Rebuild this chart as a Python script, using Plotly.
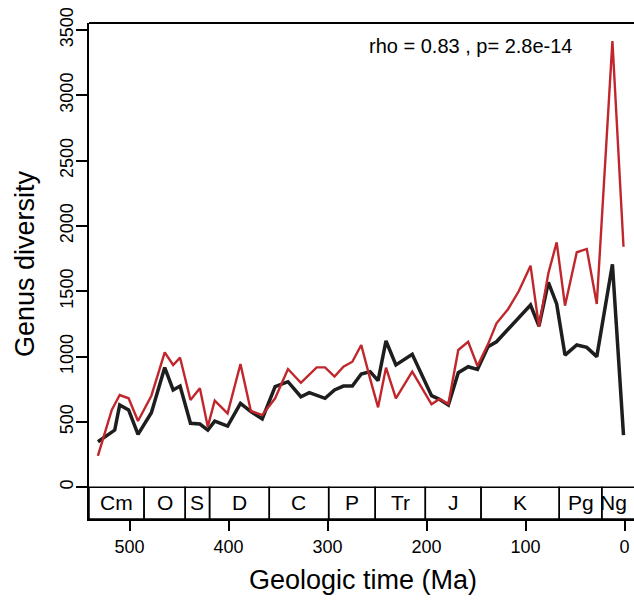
import plotly.graph_objects as go

# Geologic time (Ma) and genus diversity
ages_black = [532, 522, 515, 510, 501, 491.5, 478, 464.5, 456, 449, 438.5, 429, 421, 414, 401,
              388, 377.5, 366, 353, 340, 327, 318.5, 302.6, 293, 284, 275, 266, 257, 249, 241,
              231, 214.5, 195, 187, 178, 168, 158, 148.6, 138, 129.4, 117.6, 106.8, 95, 86.5,
              77, 68.6, 60.2, 48.3, 38.2, 28.1, 12.3, 1.1]
div_black = [349, 400, 438, 630, 592, 405, 571, 916, 745, 775, 490, 484, 438, 507, 469,
             643, 579, 523, 770, 808, 693, 724, 681, 745, 775, 775, 867, 885, 816, 1120,
             936, 1018, 701, 673, 630, 877, 923, 903, 1076, 1114, 1209, 1298, 1395, 1234,
             1569, 1403, 1012, 1089, 1071, 1000, 1707, 400]

ages_red = [532, 518, 510, 501, 491.5, 478, 464.5, 456, 449, 438.5, 429, 421, 414, 401,
            388, 377.5, 366, 353, 340, 327, 311, 302.6, 293, 284, 275, 266, 257, 249, 241,
            231, 214.5, 195, 187, 178, 168, 158, 148.6, 138, 129.4, 117.6, 106.8, 95, 86.5,
            77, 68.6, 60.2, 48.3, 38.2, 28.1, 12.3, 1.1]
div_red = [240, 592, 706, 681, 507, 701, 1033, 936, 992, 668, 758, 464, 663, 566,
           944, 584, 553, 681, 905, 800, 918, 918, 847, 923, 961, 1089, 830, 612, 916,
           681, 885, 635, 676, 637, 1051, 1114, 928, 1094, 1255, 1365, 1502, 1696, 1229,
           1638, 1875, 1390, 1799, 1824, 1403, 3416, 1841]

period_names = ["Cm", "O", "S", "D", "C", "P", "Tr", "J", "K", "Pg", "Ng"]
period_start = [541, 485.4, 443.8, 419.2, 358.9, 298.9, 251.9, 201.3, 145, 66, 23]
period_end = [485.4, 443.8, 419.2, 358.9, 298.9, 251.9, 201.3, 145, 66, 23, 0]

x_ticks = [500, 400, 300, 200, 100, 0]
y_ticks = [0, 500, 1000, 1500, 2000, 2500, 3000, 3500]

X_RANGE = [541, -9.5]
Y_RANGE = [-242.6, 3553.5]
FONT = "Liberation Sans, Arial, Helvetica, sans-serif"

fig = go.Figure()
fig.add_trace(go.Scatter(x=ages_black, y=div_black, mode="lines",
                         line=dict(color="#1e1e1e", width=3.5), showlegend=False))
fig.add_trace(go.Scatter(x=ages_red, y=div_red, mode="lines",
                         line=dict(color="#c0272d", width=2.4), showlegend=False))

# timescale boxes
for i, name in enumerate(period_names):
    x1 = period_end[i] if i < len(period_names) - 1 else X_RANGE[1] - 5
    fig.add_shape(type="rect", x0=period_start[i], x1=x1, y0=Y_RANGE[0], y1=0,
                  xref="x", yref="y", line=dict(color="black", width=1.5),
                  fillcolor="rgba(0,0,0,0)")
    fig.add_annotation(x=(period_start[i] + period_end[i]) / 2, y=-120, xref="x", yref="y",
                       xanchor="center", yanchor="middle",
                       text=name, showarrow=False, font=dict(size=21, color="black", family=FONT))

# top frame line
fig.add_shape(type="line", x0=0, x1=1, y0=1, y1=1, xref="paper", yref="paper",
              line=dict(color="black", width=2))

fig.add_annotation(x=0.701, y=0.954, xref="paper", yref="paper",
                   xanchor="center", yanchor="middle",
                   text="rho = 0.83 , p= 2.8e-14", showarrow=False,
                   font=dict(size=20, color="black", family=FONT))
fig.add_annotation(x=0.5028, y=-0.123, xref="paper", yref="paper",
                   xanchor="center", yanchor="middle",
                   text="Geologic time (Ma)", showarrow=False,
                   font=dict(size=27, color="black", family=FONT))
fig.add_annotation(x=-0.1174, y=0.514, xref="paper", yref="paper",
                   xanchor="center", yanchor="middle",
                   text="Genus diversity", showarrow=False, textangle=-90,
                   font=dict(size=27, color="black", family=FONT))

fig.update_xaxes(range=X_RANGE, tickvals=x_ticks, ticktext=[str(v) for v in x_ticks],
                 showgrid=False, zeroline=False, showline=True, linecolor="black", linewidth=2,
                 ticks="outside", ticklen=10, tickwidth=1.5, tickcolor="black",
                 tickfont=dict(size=18, color="black", family=FONT))
fig.update_yaxes(range=Y_RANGE, tickvals=y_ticks, ticktext=[str(v) for v in y_ticks],
                 showgrid=False, zeroline=False, showline=True, linecolor="black", linewidth=2,
                 ticks="outside", ticklen=11, tickwidth=1.5, tickcolor="black", tickangle=-90,
                 ticklabelstandoff=-4,
                 tickfont=dict(size=18, color="black", family=FONT))

fig.update_layout(width=634, height=602, margin=dict(l=89, r=0, t=23, b=83),
                  plot_bgcolor="white", paper_bgcolor="white",
                  font=dict(family=FONT, color="black"))

fig.write_html("out.html")
